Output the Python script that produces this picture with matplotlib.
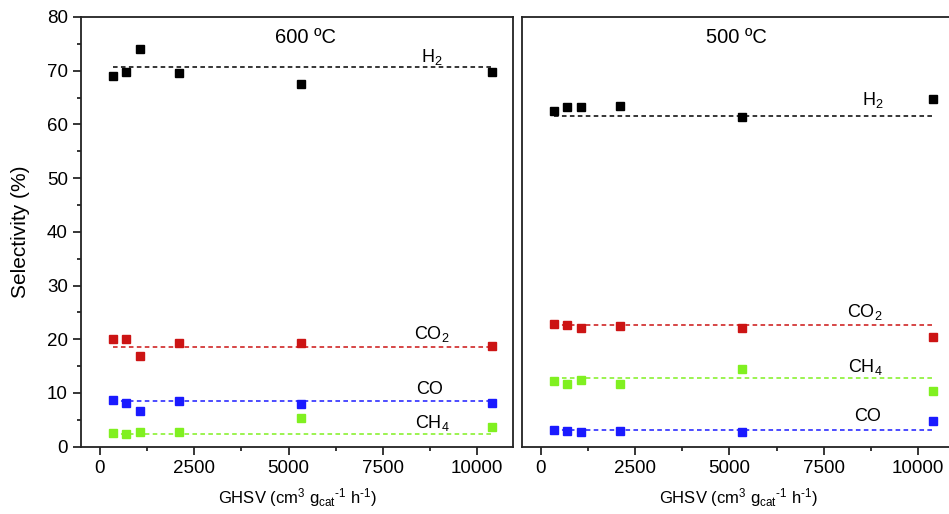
import matplotlib
matplotlib.use("Agg")
import matplotlib.pyplot as plt
from matplotlib.ticker import MultipleLocator

plt.rcParams['font.family'] = ['Liberation Sans', 'DejaVu Sans']
plt.rcParams['mathtext.fontset'] = 'custom'
plt.rcParams['mathtext.rm'] = 'Liberation Sans'
plt.rcParams['mathtext.it'] = 'Liberation Sans'
plt.rcParams['mathtext.default'] = 'regular'

ghsv = [360, 700, 1060, 2090, 5320, 10400]

# 600 ºC
h2_600 = [69.0, 69.7, 74.1, 69.6, 67.6, 69.7]
co2_600 = [20.0, 20.0, 16.8, 19.3, 19.3, 18.7]
co_600 = [8.6, 8.2, 6.6, 8.5, 7.9, 8.1]
ch4_600 = [2.5, 2.3, 2.7, 2.7, 5.4, 3.6]
avg_600 = {'H2': 70.6, 'CO2': 18.5, 'CO': 8.55, 'CH4': 2.3}

# 500 ºC
h2_500 = [62.4, 63.3, 63.2, 63.5, 61.3, 64.8]
co2_500 = [22.8, 22.6, 22.1, 22.4, 22.0, 20.5]
co_500 = [3.05, 2.95, 2.7, 2.9, 2.8, 4.7]
ch4_500 = [12.2, 11.6, 12.4, 11.7, 14.5, 10.3]
avg_500 = {'H2': 61.6, 'CO2': 22.6, 'CO': 3.1, 'CH4': 12.8}

colors = {'H2': 'black', 'CO2': '#cc1414', 'CO': '#1a1aff', 'CH4': '#80f020'}
labels = {'H2': 'H$_2$', 'CO2': 'CO$_2$', 'CO': 'CO', 'CH4': 'CH$_4$'}

fig = plt.figure(figsize=(9.49, 5.14), dpi=100)
ax1 = fig.add_axes([0.0854, 0.131, 0.4552, 0.836])
ax2 = fig.add_axes([0.5500, 0.131, 0.4552, 0.836])

def draw(ax, series, avgs, title, title_x, label_pos):
    for key, vals in series.items():
        c = colors[key]
        ax.plot([ghsv[0], ghsv[-1]], [avgs[key], avgs[key]], ls=(0, (3, 2.2)),
                color=c, lw=1.1, zorder=2)
        ax.plot(ghsv, vals, ls='none', marker='s', ms=6.3, color=c,
                mec=c, zorder=3)
        x, y = label_pos[key]
        ax.text(x, y, labels[key], fontsize=13, ha='center', va='center')
    ax.text(title_x, 0.953, title, transform=ax.transAxes, ha='center',
            va='center', fontsize=14.5)
    ax.set_xlim(-500, 10950)
    ax.set_ylim(0, 80)
    ax.xaxis.set_major_locator(MultipleLocator(2500))
    ax.xaxis.set_minor_locator(MultipleLocator(1250))
    ax.yaxis.set_major_locator(MultipleLocator(10))
    ax.yaxis.set_minor_locator(MultipleLocator(5))
    ax.tick_params(which='both', direction='out', top=False, right=False,
                   width=1.1, labelsize=13.5)
    ax.tick_params(which='major', length=6)
    ax.tick_params(which='minor', length=3)
    for s in ax.spines.values():
        s.set_linewidth(1.3)
        s.set_color('#222222')
    ax.set_xlabel('GHSV (cm$^3$ g$_{cat}$$^{\u2010' + '1}$ h$^{\u20101}$)',
                  fontsize=12, labelpad=7)

draw(ax1, {'H2': h2_600, 'CO2': co2_600, 'CO': co_600, 'CH4': ch4_600},
     avg_600, '600 ºC', 0.52,
     {'H2': (8800, 72.6), 'CO2': (8800, 21.0), 'CO': (8750, 10.6),
      'CH4': (8800, 4.4)})
draw(ax2, {'H2': h2_500, 'CO2': co2_500, 'CO': co_500, 'CH4': ch4_500},
     avg_500, '500 ºC', 0.497,
     {'H2': (8800, 64.5), 'CO2': (8600, 25.0), 'CO': (8650, 5.6),
      'CH4': (8600, 14.8)})

ax1.set_ylabel('Selectivity (%)', fontsize=15, labelpad=12)
ax2.tick_params(axis='y', which='both', left=False, labelleft=False)

fig.savefig('out.png', dpi=100)
